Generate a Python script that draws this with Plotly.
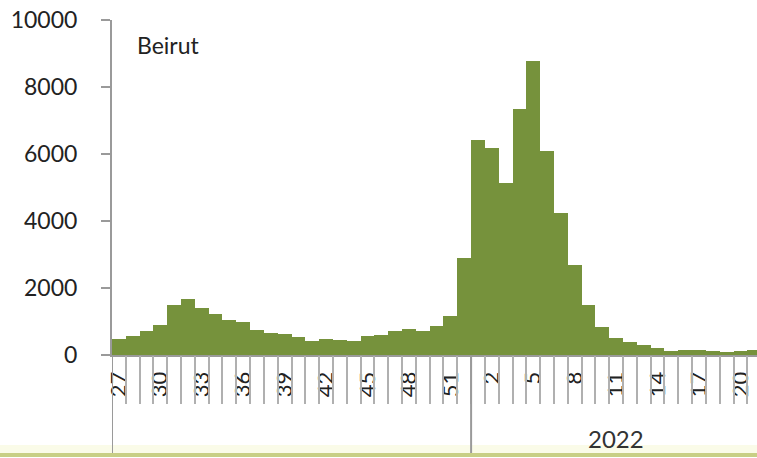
import plotly.graph_objects as go

weeks = [27, 28, 29, 30, 31, 32, 33, 34, 35, 36, 37, 38, 39, 40, 41, 42, 43, 44, 45, 46,
         47, 48, 49, 50, 51, 52, 1, 2, 3, 4, 5, 6, 7, 8, 9, 10, 11, 12, 13, 14, 15, 16,
         17, 18, 19, 20, 21]
years = [2021] * 26 + [2022] * 21
cases = [470, 570, 730, 890, 1480, 1680, 1390, 1220, 1050, 980, 750, 650, 630, 530, 430,
         480, 440, 430, 570, 590, 730, 780, 710, 880, 1150,
         2890, 6420, 6190, 5120, 7330, 8790, 6090, 4230, 2690, 1480, 850, 520, 400,
         300, 200, 110, 150, 150, 120, 80, 120, 150]
region_label = "Beirut"
year_label = 2022
y_ticks = [0, 2000, 4000, 6000, 8000, 10000]

idx = list(range(len(weeks)))
tick_idx = idx[::3]
tick_txt = [str(weeks[i]) for i in tick_idx]
year_start = years.index(year_label)
year_idx = [i for i in idx if years[i] == year_label]

FONT = "Lato"
GREY = "#9a9a9a"

fig = go.Figure()
fig.add_trace(go.Bar(x=idx, y=cases, marker=dict(color="#76923c", line=dict(width=0)),
                     hoverinfo="skip"))
# overlay axis for boundary ticks
fig.add_trace(go.Scatter(x=[idx[0]], y=[0], xaxis="x2", mode="markers",
                         marker=dict(opacity=0), hoverinfo="skip", showlegend=False))

xr = [-0.5, 46.2]
fig.update_layout(
    width=757, height=458,
    margin=dict(l=112, r=0, t=20, b=103),
    paper_bgcolor="white", plot_bgcolor="white",
    showlegend=False, bargap=0,
    font=dict(family=FONT, color="#222222"),
    xaxis=dict(range=xr, tickmode="array", tickvals=tick_idx, ticktext=tick_txt,
               tickangle=-90, ticks="outside", ticklen=6, tickcolor="rgba(0,0,0,0)",
               tickfont=dict(size=22, family=FONT, color="#222222"),
               showline=True, linecolor=GREY, linewidth=2, showgrid=False,
               zeroline=False, automargin=False),
    xaxis2=dict(range=xr, overlaying="x", side="bottom", tickmode="array",
                tickvals=[i - 0.5 for i in idx[1:]], ticks="outside", ticklen=48,
                tickwidth=2, tickcolor="#b0b0b0", showticklabels=False,
                showgrid=False, zeroline=False, showline=False, automargin=False),
    yaxis=dict(range=[0, 10000], tickmode="array", tickvals=y_ticks,
               ticktext=[str(v) for v in y_ticks],
               ticks="outside", ticklen=9, tickwidth=2, tickcolor=GREY,
               showline=True, linecolor=GREY, linewidth=2, showgrid=False,
               zeroline=False, ticklabelstandoff=19, automargin=False,
               tickfont=dict(size=23, family=FONT, color="#222222")),
)

# year dividers
for xb in [-0.5, year_start - 0.5]:
    fig.add_shape(type="line", xref="x", yref="paper", x0=xb, x1=xb, y0=0, y1=-0.3,
                  line=dict(color=GREY, width=2))

fig.add_annotation(xref="x", yref="paper", x=sum(year_idx) / len(year_idx), y=-0.248,
                   yanchor="middle", text=str(year_label), showarrow=False,
                   font=dict(size=24, family=FONT, color="#333333"))
fig.add_annotation(xref="paper", yref="paper", x=0.036, y=0.925, xanchor="left",
                   yanchor="middle", text=region_label, showarrow=False,
                   font=dict(size=23, family=FONT, color="#222222"))

# bottom decorative band
fig.add_shape(type="rect", xref="paper", yref="paper", x0=-0.2, x1=1.0,
              y0=-(453 - 355) / 335, y1=-(445 - 355) / 335,
              fillcolor="#fafbe8", line=dict(width=0), layer="below")
fig.add_shape(type="rect", xref="paper", yref="paper", x0=-0.2, x1=1.0,
              y0=-(457 - 355) / 335, y1=-(453 - 355) / 335,
              fillcolor="#c8cf85", line=dict(width=0))

fig.write_html("out.html", config={"displayModeBar": False},
               post_script="document.body.style.margin='0';document.body.style.overflow='hidden';")
